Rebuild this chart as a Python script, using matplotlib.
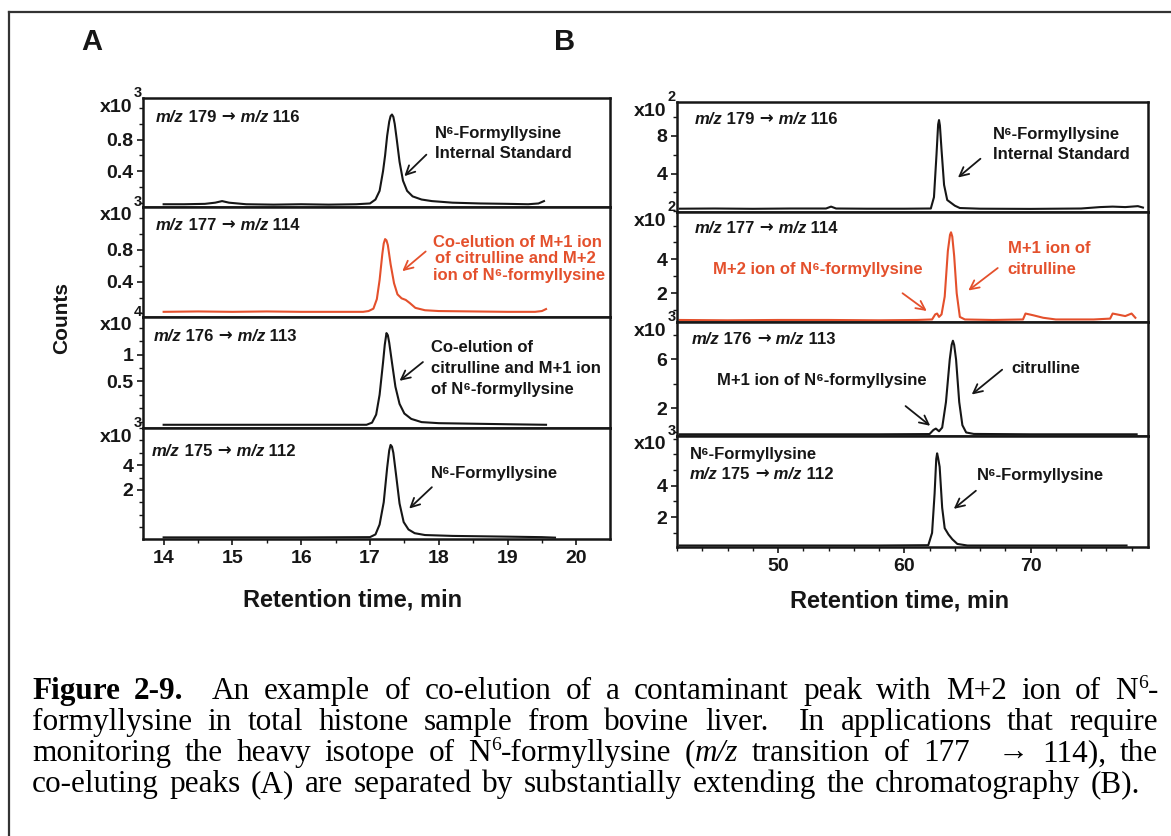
import matplotlib
matplotlib.use("Agg")
import matplotlib.pyplot as plt
from matplotlib.lines import Line2D
from matplotlib.ticker import FixedLocator, NullFormatter
from matplotlib.transforms import offset_copy

FIG_W, FIG_H = 1171, 836
SANS = ["Liberation Sans", "DejaVu Sans"]
SERIF = ["Liberation Serif", "DejaVu Serif"]
RED = "#e4502c"
INK = "#161616"

# ---- traces (retention time, counts in tick units) ----
A1_T = [14.0, 14.3, 14.6, 14.75, 14.85, 14.95, 15.2, 15.6, 16.0, 16.4, 16.8, 17.0, 17.08, 17.14, 17.19, 17.22,
        17.25, 17.28, 17.30, 17.32, 17.34, 17.36, 17.39, 17.43, 17.48, 17.54, 17.62, 17.75, 17.9, 18.2, 18.6,
        19.0, 19.3, 19.45, 19.53]
A1_Y = [-0.02, -0.02, -0.015, 0.0, 0.02, 0.0, -0.02, -0.025, -0.02, -0.025, -0.02, -0.01, 0.04, 0.15, 0.40, 0.60,
        0.85, 1.03, 1.10, 1.12, 1.09, 1.00, 0.80, 0.52, 0.28, 0.15, 0.08, 0.04, 0.02, 0.0, -0.01,
        -0.015, -0.02, -0.01, 0.02]

A2_T = [14.0, 14.5, 15.0, 15.5, 16.0, 16.5, 16.9, 16.98, 17.05, 17.10, 17.14, 17.18, 17.20, 17.22, 17.24, 17.26,
        17.30, 17.35, 17.40, 17.46, 17.52, 17.58, 17.66, 17.8, 18.0, 18.5, 19.0, 19.4, 19.5, 19.56]
A2_Y = [0.02, 0.025, 0.02, 0.025, 0.02, 0.02, 0.02, 0.03, 0.06, 0.18, 0.42, 0.75, 0.88, 0.936, 0.92, 0.86,
        0.62, 0.38, 0.24, 0.19, 0.17, 0.13, 0.07, 0.04, 0.03, 0.025, 0.02, 0.02, 0.03, 0.055]

A3_T = [14.0, 15.0, 16.0, 16.95, 17.03, 17.09, 17.14, 17.19, 17.215, 17.24, 17.26, 17.28, 17.32, 17.37, 17.43,
        17.5, 17.6, 17.75, 18.0, 18.5, 19.0, 19.56]
A3_Y = [-0.31, -0.31, -0.31, -0.31, -0.27, -0.12, 0.25, 0.85, 1.18, 1.40, 1.36, 1.22, 0.85, 0.40, 0.08,
        -0.10, -0.20, -0.26, -0.28, -0.29, -0.30, -0.31]

A4_T = [14.0, 15.0, 16.0, 17.0, 17.08, 17.14, 17.2, 17.25, 17.28, 17.30, 17.32, 17.34, 17.38, 17.43, 17.49,
        17.56, 17.65, 17.8, 18.2, 19.0, 19.5, 19.69]
A4_Y = [-1.84, -1.84, -1.84, -1.82, -1.6, -0.8, 1.0, 3.8, 5.2, 5.64, 5.5, 5.0, 3.2, 0.9, -0.6,
        -1.2, -1.5, -1.65, -1.72, -1.78, -1.82, -1.86]

B1_T = [42.2, 45.0, 48.0, 51.0, 53.8, 54.2, 54.6, 57.0, 60.0, 62.1, 62.35, 62.55, 62.68, 62.75, 62.82, 62.95,
        63.15, 63.4, 63.7, 64.0, 64.4, 66.0, 70.0, 74.0, 75.5, 76.5, 77.5, 78.5, 78.9]
B1_Y = [0.28, 0.3, 0.27, 0.3, 0.3, 0.5, 0.3, 0.28, 0.28, 0.3, 1.5, 6.0, 9.2, 9.67, 9.1, 6.5,
        2.8, 1.2, 0.9, 0.6, 0.35, 0.28, 0.26, 0.3, 0.45, 0.5, 0.45, 0.55, 0.4]

B2_T = [42.2, 46.0, 50.0, 54.0, 58.0, 61.0, 62.2, 62.45, 62.6, 62.75, 62.95, 63.2, 63.45, 63.62, 63.7, 63.8,
        63.95, 64.15, 64.4, 64.8, 67.0, 69.4, 69.6, 70.2, 71.0, 72.0, 75.0, 76.3, 76.5, 77.5, 78.0, 78.3]
B2_Y = [0.42, 0.4, 0.42, 0.42, 0.4, 0.42, 0.45, 0.75, 0.8, 0.6, 0.75, 1.8, 4.5, 5.45, 5.6, 5.35,
        4.2, 2.0, 0.6, 0.45, 0.42, 0.45, 0.8, 0.7, 0.55, 0.45, 0.45, 0.5, 0.8, 0.65, 0.8, 0.55]

B3_T = [42.2, 50.0, 58.0, 62.0, 62.3, 62.5, 62.75, 63.0, 63.3, 63.6, 63.75, 63.85, 63.95, 64.1, 64.35, 64.6,
        64.9, 65.5, 70.0, 75.0, 78.4]
B3_Y = [-0.15, -0.15, -0.15, -0.13, 0.2, 0.32, 0.1, 0.4, 2.5, 6.0, 7.2, 7.54, 7.2, 6.0, 2.5, 0.6,
        0.0, -0.12, -0.15, -0.15, -0.15]

B4_T = [42.2, 50.0, 58.0, 61.9, 62.2, 62.4, 62.53, 62.6, 62.67, 62.8, 63.0, 63.2, 63.5, 63.8, 64.2, 65.0,
        70.0, 77.6]
B4_Y = [0.2, 0.2, 0.2, 0.22, 1.0, 3.5, 5.7, 6.06, 5.8, 5.2, 2.6, 1.3, 0.9, 0.6, 0.3, 0.2,
        0.2, 0.2]

A_TRACES = [(A1_T, A1_Y), (A2_T, A2_Y), (A3_T, A3_Y), (A4_T, A4_Y)]
B_TRACES = [(B1_T, B1_Y), (B2_T, B2_Y), (B3_T, B3_Y), (B4_T, B4_Y)]
TRACE_COLORS = [INK, RED, INK, INK]

TRANSITIONS = [("179", "116"), ("177", "114"), ("176", "113"), ("175", "112")]
A_EXPONENTS = ["3", "3", "4", "3"]
B_EXPONENTS = ["2", "2", "3", "3"]
A_YTICKS = [[0.4, 0.8], [0.4, 0.8], [0.5, 1.0], [2, 4]]
A_YTICKLABELS = [["0.4", "0.8"], ["0.4", "0.8"], ["0.5", "1"], ["2", "4"]]
B_YTICKS = [[4, 8], [2, 4], [2, 6], [2, 4]]
B_YTICKLABELS = [["4", "8"], ["2", "4"], ["2", "6"], ["2", "4"]]
A_XTICKS = [14, 15, 16, 17, 18, 19, 20]
B_XTICKS = [50, 60, 70]

# ---- layout (pixels of the 1171x836 picture) ----
A_X = (143, 610)
A_ROWS = [98, 207, 317, 428, 539]
B_X = (677, 1148)
B_ROWS = [102, 212, 322, 436, 547]
A_XLIM = (13.70, 20.49)
B_XLIM = (42.0, 79.3)
A_YLIM = [(-0.055, 1.33), (-0.045, 1.34), (-0.37, 1.70), (-1.97, 7.01)]
B_YLIM = [(-0.07, 11.58), (0.30, 6.8), (-0.29, 9.08), (0.105, 7.16)]
A_MINOR = [0.2, 0.2, 0.25, 1.0]
B_MINOR = [2.0, 1.0, 2.0, 1.0]
A_XMINOR = 0.5
B_XMINOR = 2.0


def fx(x):
    return x / FIG_W


def fy(y):
    return 1 - y / FIG_H


def minor_ticks(lo, hi, step):
    ticks = []
    k = int(lo // step)
    while k * step <= hi:
        if k * step >= lo:
            ticks.append(round(k * step, 6))
        k += 1
    return ticks


def mz_label(ax, x, y, a, b, color=INK, size=12):
    t = ax.text(x, y, "m/z", style="italic", fontsize=size, color=color, va="center", ha="left")
    parts = [(f" {a}", "normal", SANS), (" \u2192", "normal", ["DejaVu Sans"]),
             (" m/z", "italic", SANS), (f" {b}", "normal", SANS)]
    for s, st, fam in parts:
        t = ax.annotate(s, xy=(1, 0), xycoords=t, va="bottom", ha="left", fontsize=size,
                        style=st, family=fam, color=color)
    return t


def note(ax, x, y, s, color=INK, size=12):
    ax.text(x, y, s, fontsize=size, color=color, va="center", ha="left")


def arrow(ax, head, tail, color=INK):
    ax.annotate("", xy=head, xytext=tail,
                arrowprops=dict(arrowstyle="->", lw=1.3, color=color, shrinkA=0, shrinkB=0,
                                mutation_scale=16))


def make_panel(fig, xpix, rows, xlim, ylims, traces, exps, yticks, yticklabels, yminor, xticks, xminor):
    axes = []
    for i in range(4):
        l, r = xpix
        top, bot = rows[i], rows[i + 1]
        ax = fig.add_axes([fx(l), fy(bot), fx(r) - fx(l), (bot - top) / FIG_H])
        t, y = traces[i]
        ax.plot(t, y, color=TRACE_COLORS[i], lw=1.5, solid_joinstyle="round")
        ax.set_xlim(*xlim)
        ax.set_ylim(*ylims[i])
        for sp in ax.spines.values():
            sp.set_linewidth(1.8)
            sp.set_color(INK)
        ax.yaxis.set_major_locator(FixedLocator(yticks[i]))
        ax.set_yticklabels(yticklabels[i])
        ax.yaxis.set_minor_locator(FixedLocator(minor_ticks(*ylims[i], yminor[i])))
        ax.tick_params(axis="y", which="major", direction="out", length=4, width=1.2, pad=3,
                       labelsize=14, colors=INK)
        ax.tick_params(axis="y", which="minor", direction="out", length=3, width=1.0, colors=INK)
        if i < 3:
            ax.tick_params(axis="x", which="both", bottom=False, labelbottom=False)
        else:
            ax.xaxis.set_major_locator(FixedLocator(xticks))
            ax.xaxis.set_minor_locator(FixedLocator(minor_ticks(*xlim, xminor)))
            ax.xaxis.set_minor_formatter(NullFormatter())
            ax.tick_params(axis="x", which="major", direction="out", length=4, width=1.2, pad=4,
                           labelsize=14, colors=INK)
            ax.tick_params(axis="x", which="minor", direction="out", length=3, width=1.0, colors=INK)
        # "x10^n" scale marks at the top-left corner
        ax.text(0, 1, "x10", transform=offset_copy(ax.transAxes, fig, x=-11, y=-9, units="dots"),
                ha="right", va="center", fontsize=14, color=INK)
        ax.text(0, 1, exps[i], transform=offset_copy(ax.transAxes, fig, x=-1, y=5, units="dots"),
                ha="right", va="center", fontsize=10.5, color=INK)
        axes.append(ax)
    return axes


def caption_line(fig, words, x0, x1, y, size):
    renderer = fig.canvas.get_renderer()
    W = fig.bbox.width
    placed = []
    total = 0.0
    weights = []
    for pieces, gap_w in words:
        items = []
        for s, kw in pieces:
            kw = dict(kw)
            dy = kw.pop("dy", 0)
            fs = kw.pop("size", size)
            t = fig.text(0, y + dy / FIG_H, s, fontsize=fs, va="baseline", ha="left",
                         family=SERIF, color="black", **kw)
            w = t.get_window_extent(renderer).width / W
            items.append((t, w))
            total += w
        placed.append(items)
        weights.append(gap_w)
    gaps = sum(weights[:-1])
    unit = (x1 - x0 - total) / gaps
    x = x0
    for k, items in enumerate(placed):
        for t, w in items:
            t.set_x(x)
            x += w
        if k < len(placed) - 1:
            x += unit * weights[k]


def words_from(text, **kw):
    out = []
    for part in text.split(" "):
        if part == "":
            if out:
                out[-1] = (out[-1][0], out[-1][1] + 1)
            continue
        out.append(([(part, kw)], 1))
    return out


plt.rcParams["font.family"] = SANS
plt.rcParams["font.weight"] = "bold"

fig = plt.figure(figsize=(FIG_W / 100, FIG_H / 100), dpi=100)

axA = make_panel(fig, A_X, A_ROWS, A_XLIM, A_YLIM, A_TRACES, A_EXPONENTS, A_YTICKS, A_YTICKLABELS,
                 A_MINOR, A_XTICKS, A_XMINOR)
axB = make_panel(fig, B_X, B_ROWS, B_XLIM, B_YLIM, B_TRACES, B_EXPONENTS, B_YTICKS, B_YTICKLABELS,
                 B_MINOR, B_XTICKS, B_XMINOR)

# panel A labels
mz_label(axA[0], 13.89, 1.086, *TRANSITIONS[0])
note(axA[0], 17.94, 0.88, "N\u2076-Formyllysine")
note(axA[0], 17.94, 0.62, "Internal Standard")
arrow(axA[0], (17.5, 0.337), (17.82, 0.61))

mz_label(axA[1], 13.89, 1.11, *TRANSITIONS[1])
note(axA[1], 17.91, 0.895, "Co-elution of M+1 ion", RED)
note(axA[1], 17.94, 0.697, "of citrulline and M+2", RED)
note(axA[1], 17.91, 0.48, "ion of N\u2076-formyllysine", RED)
arrow(axA[1], (17.47, 0.532), (17.81, 0.78), RED)

mz_label(axA[2], 13.85, 1.335, *TRANSITIONS[2])
note(axA[2], 17.89, 1.13, "Co-elution of")
note(axA[2], 17.89, 0.734, "citrulline and M+1 ion")
note(axA[2], 17.89, 0.354, "of N\u2076-formyllysine")
arrow(axA[2], (17.43, 0.51), (17.77, 0.86))

mz_label(axA[3], 13.83, 5.1, *TRANSITIONS[3])
note(axA[3], 17.89, 3.32, "N\u2076-Formyllysine")
arrow(axA[3], (17.57, 0.49), (17.9, 2.22))

# panel B labels
mz_label(axB[0], 43.37, 9.74, *TRANSITIONS[0])
note(axB[0], 66.99, 8.1, "N\u2076-Formyllysine")
note(axB[0], 66.99, 6.02, "Internal Standard")
arrow(axB[0], (64.25, 3.58), (66.03, 5.57))

mz_label(axB[1], 43.37, 5.81, *TRANSITIONS[1])
note(axB[1], 44.85, 3.39, "M+2 ion of N\u2076-formyllysine", RED)
note(axB[1], 68.2, 4.67, "M+1 ion of", RED)
note(axB[1], 68.2, 3.43, "citrulline", RED)
arrow(axB[1], (61.78, 0.95), (59.86, 2.0), RED)
arrow(axB[1], (65.07, 2.16), (67.4, 3.49), RED)

mz_label(axB[2], 43.15, 7.68, *TRANSITIONS[2])
note(axB[2], 45.2, 4.24, "M+1 ion of N\u2076-formyllysine")
note(axB[2], 68.5, 5.22, "citrulline")
arrow(axB[2], (62.05, 0.55), (60.1, 2.17))
arrow(axB[2], (65.34, 3.12), (67.75, 5.16))

note(axB[3], 43.0, 5.99, "N\u2076-Formyllysine")
mz_label(axB[3], 43.0, 4.69, *TRANSITIONS[3])
note(axB[3], 65.75, 4.63, "N\u2076-Formyllysine")
arrow(axB[3], (63.92, 2.53), (65.67, 3.68))

# figure-level text
fig.text(fx(92), fy(42), "A", fontsize=21, ha="center", va="center", color=INK)
fig.text(fx(565), fy(42), "B", fontsize=21, ha="center", va="center", color=INK)
fig.text(fx(62), fy(318), "Counts", fontsize=15, rotation=90, ha="center", va="center", color=INK)
fig.text(fx(353), fy(600), "Retention time, min", fontsize=17, ha="center", va="center", color=INK)
fig.text(fx(900), fy(601), "Retention time, min", fontsize=17, ha="center", va="center", color=INK)

# outer frame (only top and left edges fall inside the picture)
fig.add_artist(Line2D([fx(9), fx(9)], [fy(12), 0], color="#333333", lw=1.6))
fig.add_artist(Line2D([fx(9), 1], [fy(12), fy(12)], color="#333333", lw=1.6))

# caption
CAP_SIZE = 22.5
REG = dict(fontweight="normal")
BOLD = dict(fontweight="bold")
ITAL = dict(fontweight="normal", style="italic")
SUP = dict(fontweight="normal", size=14, dy=11)

line1 = [([("Figure", BOLD)], 1), ([("2-9.", BOLD)], 2)] + \
    words_from("An example of co-elution of a contaminant peak with M+2 ion of", **REG) + \
    [([("N", REG), ("6", SUP), ("-", REG)], 1)]
line2 = words_from("formyllysine in total histone sample from bovine liver.  In applications that require", **REG)
line3 = words_from("monitoring the heavy isotope of", **REG) + \
    [([("N", REG), ("6", SUP), ("-formyllysine", REG)], 1), ([("(", REG), ("m/z", ITAL)], 1)] + \
    words_from("transition of 177  \u2192 114), the", **REG)
line4 = words_from("co-eluting peaks (A) are separated by substantially extending the chromatography (B).", **REG)

x0, x1 = fx(32), fx(1158)
for k, ln in enumerate([line1, line2, line3, line4]):
    caption_line(fig, ln, x0, x1 if k < 3 else fx(1140), fy(699 + 31 * k), CAP_SIZE)

fig.savefig("out.png", dpi=100)
